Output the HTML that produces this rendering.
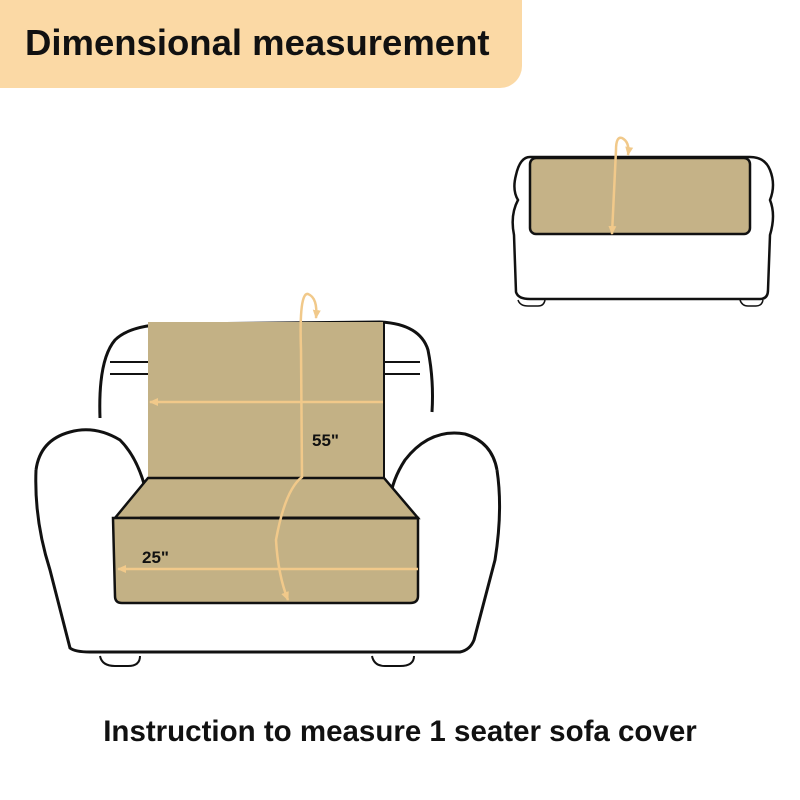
<!DOCTYPE html>
<html><head><style>
body{margin:0;width:800px;height:800px;background:#fff;position:relative;overflow:hidden;font-family:"Liberation Sans",sans-serif}
.hdr{position:absolute;left:0;top:0;width:522px;height:88px;background:#fbd9a5;border-bottom-right-radius:22px}
.hdr span{position:absolute;left:25px;top:22px;font-size:36.5px;font-weight:bold;color:#111}
.cap{position:absolute;left:0;width:800px;top:715px;text-align:center;font-size:29.5px;font-weight:bold;color:#111}
</style></head><body>
<div class="hdr"><span>Dimensional measurement</span></div>
<svg width="800" height="800" style="position:absolute;left:0;top:0">
<defs><marker id="ah" markerUnits="userSpaceOnUse" markerWidth="10" markerHeight="10" refX="8" refY="5" orient="auto"><path d="M0,1 L9,5 L0,9 z" fill="#f1c98a"/></marker></defs>
<g fill="none" stroke="#111" stroke-width="3">
<path d="M530,157 Q520,157 516,175 Q512,190 518,200 Q510,215 514,235 L516,292 Q518,299 530,299 L760,299 Q768,299 768,290 L770,235 Q776,215 770,200 Q776,185 770,170 Q765,157 750,157 Z" stroke-width="2.5"/>
<path d="M100,418 Q98,360 115,340 Q130,325 170,324 L380,322 Q420,324 428,350 Q434,380 432,412" />
<path d="M36,470 Q40,440 70,432 Q95,425 120,440 Q140,460 148,500"/>
<path d="M497,470 Q492,442 465,434 Q430,428 405,460 Q392,480 390,500"/>
<path d="M36,470 Q34,520 50,570 L70,648 Q75,652 90,652 L460,652 Q470,650 474,640 L495,560 Q503,510 497,470"/>
<path d="M110,362 L148,362 M110,374 L148,374 M384,362 L420,362 M384,374 L420,374" stroke-width="2"/>
<path d="M100,656 Q102,666 115,666 L128,666 Q140,666 140,656 M372,656 Q374,666 385,666 L400,666 Q414,666 414,656" stroke-width="2"/>
<path d="M518,300 Q520,306 528,306 L538,306 Q544,306 545,300 M740,300 Q742,306 748,306 L756,306 Q762,306 763,300" stroke-width="1.5"/>
</g>
<rect x="530" y="158" width="220" height="76" rx="6" fill="#c5b287" stroke="#111" stroke-width="2.5"/>
<rect x="148" y="322" width="236" height="156" fill="#c3b185"/>
<path d="M384,322 L384,478" stroke="#111" stroke-width="2"/>
<path d="M148,478 L384,478 L418,518 L115,518 Z" fill="#c3b185" stroke="#111" stroke-width="2.5"/>
<path d="M113,518 L418,518 L418,596 Q418,603 410,603 L122,603 Q115,603 115,596 Z" fill="#c3b185" stroke="#111" stroke-width="2.5"/>
<path d="M140,518 L418,518" stroke="#111" stroke-width="3"/>
<g stroke="#f1c98a" stroke-width="2.5" fill="none">
<path d="M383,402 L150,402" marker-end="url(#ah)"/>
<path d="M418,569 L118,569" marker-end="url(#ah)"/>
<path d="M301,350 Q299,292 308,294 Q318,298 316,318" marker-end="url(#ah)"/>
<path d="M301,350 L302,477 Q285,490 276,540 Q278,575 288,600" marker-end="url(#ah)"/>
<path d="M616,150 L612,234" marker-end="url(#ah)"/>
<path d="M616,150 Q616,136 622,138 Q630,142 628,155" marker-end="url(#ah)"/>
</g>
<text x="312" y="446" font-family="Liberation Sans" font-weight="bold" font-size="17" fill="#111">55"</text>
<text x="142" y="563" font-family="Liberation Sans" font-weight="bold" font-size="17" fill="#111">25"</text>
</svg>
<div class="cap">Instruction to measure 1 seater sofa cover</div>
</body></html>
